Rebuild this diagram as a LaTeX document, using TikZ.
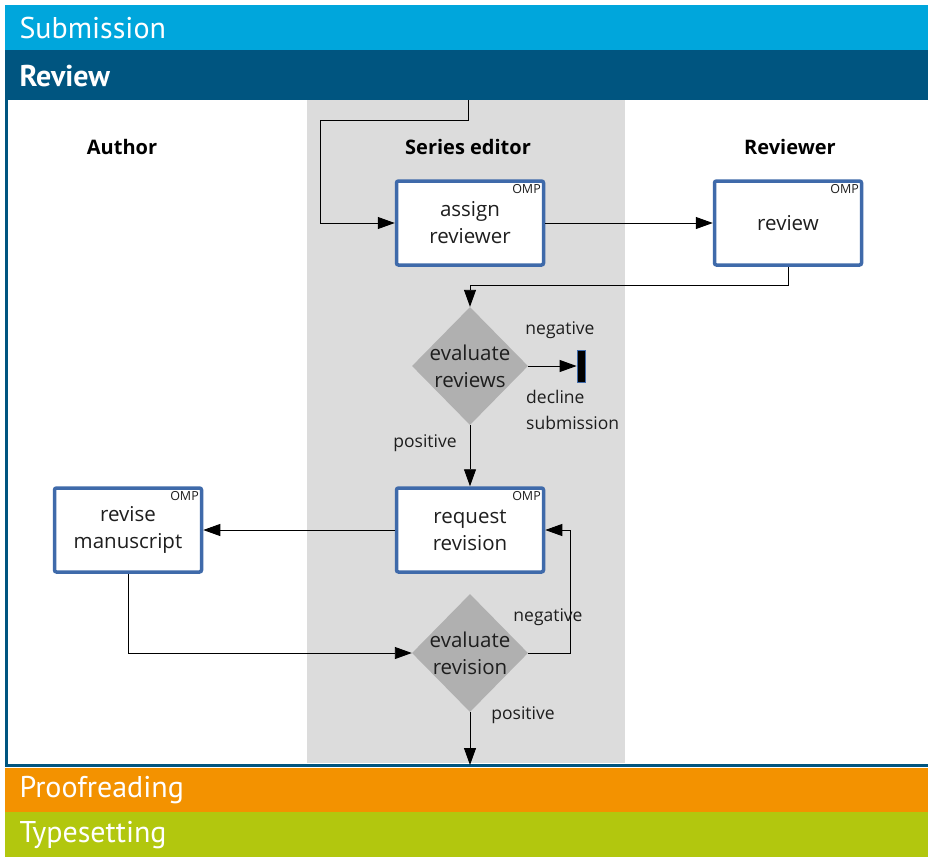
\documentclass[tikz,border=0pt]{standalone}
\usepackage{fontspec}
\setmainfont{Open Sans}
\newfontfamily\barfont{PT Sans}
\usetikzlibrary{shapes.geometric,arrows.meta}
\definecolor{subblue}{RGB}{0,166,220}
\definecolor{revblue}{RGB}{0,85,128}
\definecolor{lanegray}{RGB}{220,220,220}
\definecolor{orangebar}{RGB}{243,146,0}
\definecolor{greenbar}{RGB}{178,199,14}
\definecolor{boxblue}{RGB}{63,106,170}
\definecolor{diagray}{RGB}{176,176,176}
\definecolor{txt}{RGB}{30,30,30}
\tikzset{
  task/.style={draw=boxblue, line width=3.5pt, fill=white, rounded corners=2pt, minimum width=147pt, minimum height=84pt, align=center, font=\fontsize{20.5}{27}\selectfont, text=txt},
  omp/.style={font=\fontsize{12.5}{14}\selectfont, text=txt, anchor=north east, inner sep=0pt},
  gate/.style={diamond, fill=diagray, minimum width=116pt, minimum height=118pt, inner sep=0pt, aspect=1},
  gatetext/.style={align=center, font=\fontsize{20.5}{27}\selectfont, text=txt, inner sep=0pt},
  flow/.style={line width=0.9pt, -{Triangle[length=17pt,width=12pt]}},
  lbl/.style={font=\fontsize{17.5}{26}\selectfont, text=txt},
  lanehead/.style={font=\bfseries\fontsize{20}{24}\selectfont, text=black},
  bartext/.style={font=\barfont\fontsize{30}{34}\selectfont, text=white, anchor=west}
}
\begin{document}
\begin{tikzpicture}[x=1pt,y=-1pt]
\useasboundingbox (0,0) rectangle (928,857);
\fill[white] (0,0) rectangle (928,857);
% bars
\fill[subblue] (5,5) rectangle (928,50);
\node[bartext] (tsub) at (16,28) {Submission};
\fill[revblue] (5,50) rectangle (928,100);
\node[bartext, font=\barfont\bfseries\fontsize{30}{34}\selectfont] (trev) at (16,76) {Review};
\fill[white] (8,100) rectangle (928,763);
\fill[lanegray] (307,100) rectangle (625,763);
\draw[revblue, line width=3pt] (6.5,100) -- (6.5,765) -- (928,765);
\fill[orangebar] (5,768) rectangle (928,812);
\node[bartext] (tproof) at (16,790) {Proofreading};
\fill[greenbar] (5,812) rectangle (928,857);
\node[bartext] (ttype) at (16,835) {Typesetting};
% lane headings
\node[lanehead] (hauth) at (122,147) {Author};
\node[lanehead] (hser) at (468,147) {Series editor};
\node[lanehead] (hrev) at (790,147) {Reviewer};
% nodes
\node[task] (assign) at (470,223) {assign\\reviewer};
\node[omp] (o1) at (541,184) {OMP};
\node[task] (review) at (788,223) {review};
\node[omp] (o2) at (859,184) {OMP};
\node[gate] (evr) at (470,366) {};
\node[gatetext] (evrt) at (470,366) {evaluate\\reviews};
\node[draw=boxblue, fill=black, line width=0.8pt, minimum width=8pt, minimum height=32pt, inner sep=0pt] (decl) at (581,366) {};
\node[task] (req) at (470,530) {request\\revision};
\node[omp] (o3) at (541,491) {OMP};
\node[task] (revise) at (128,530) {revise\\manuscript};
\node[omp] (o4) at (199,491) {OMP};
\node[gate] (evn) at (470,653) {};
\node[gatetext] (evnt) at (470,653) {evaluate\\revision};
\coordinate (top) at (468,100);
\coordinate (bot) at (470,765);
% connectors
\draw[flow] (top) -- (468,120) -- (320,120) |- (assign.west);
\draw[flow] (assign.east) -- (review.west);
\draw[flow] (review.south) |- (470,285) -- (evr.north);
\draw[flow] (evr.east) -- (decl.west);
\draw[flow] (evr.south) -- (req.north);
\draw[flow] (req.west) -- (revise.east);
\draw[flow] (revise.south) |- (evn.west);
\draw[flow] (evn.east) -- (570,653) |- (req.east);
\draw[flow] (evn.south) -- (bot);
% labels
\node[lbl] (ln1) at (560,330) {negative};
\node[lbl, align=left, anchor=north west, inner sep=0pt] (ldec) at (526,390) {decline\\submission};
\node[lbl] (lp1) at (425,443) {positive};
\node[lbl] (ln2) at (548,617) {negative};
\node[lbl] (lp2) at (523,715) {positive};
\end{tikzpicture}
\end{document}
